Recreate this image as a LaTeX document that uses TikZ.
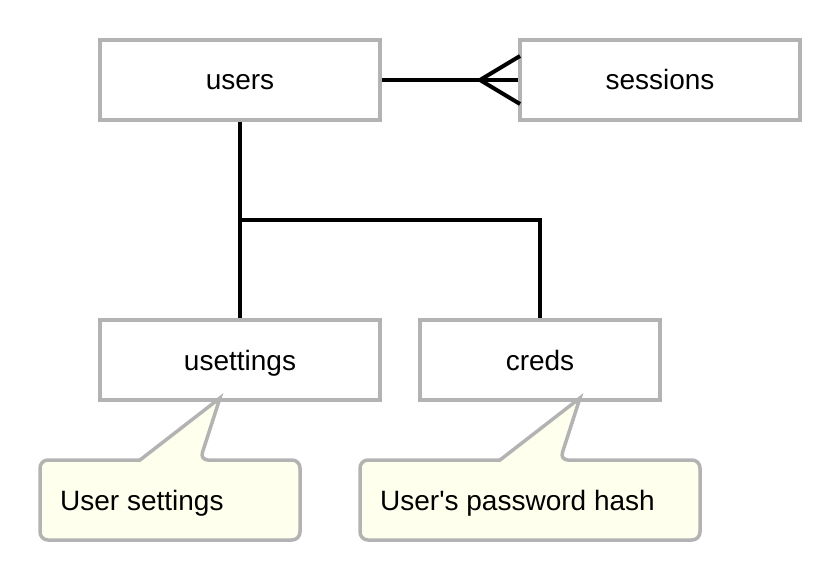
\documentclass[tikz,border=0pt]{standalone}
\usepackage{fontspec}
\setmainfont{Liberation Sans}
\begin{document}
\begin{tikzpicture}[x=1pt,y=-1pt,
  txt/.style={font=\fontsize{28}{30}\selectfont,text height=20pt,text depth=0pt},
  entity/.style={draw=boxgray,line width=3.5pt,minimum height=80pt,inner sep=0pt,txt},
  conn/.style={line width=4pt,black},
  note/.style={draw=boxgray,fill=notefill,line width=3.5pt,rounded corners=8pt,line join=miter}]
\definecolor{boxgray}{HTML}{B3B3B3}
\definecolor{notefill}{HTML}{FFFFEE}
\useasboundingbox (0,0) rectangle (840,580);
\node[entity,minimum width=280pt] (users) at (240,80) {users};
\node[entity,minimum width=280pt] (sessions) at (660,80) {sessions};
\node[entity,minimum width=280pt] (usettings) at (240,360) {usettings};
\node[entity,minimum width=240pt] (creds) at (540,360) {creds};
% callouts
\filldraw[note]
  (140,460) -- (40,460) -- (40,540) -- (300,540) -- (300,460) -- (200,460) [sharp corners]-- (220,398) -- cycle;
\node[anchor=west,txt,inner sep=0pt] (note1) at (60,500) {User settings};
\filldraw[note]
  (500,460) -- (360,460) -- (360,540) -- (700,540) -- (700,460) -- (560,460) [sharp corners]-- (580,398) -- cycle;
\node[anchor=west,txt,inner sep=0pt] (note2) at (380,500) {User\textquotesingle s password hash};
% connectors
\coordinate (j) at (240,220);
\coordinate (cf) at (480,80);
\coordinate (cfa) at (520,56);
\coordinate (cfb) at (520,104);
\draw[conn] (users.south) -- (usettings.north);
\draw[conn] (j) -| (creds.north);
\draw[conn] (users.east) -- (sessions.west);
\draw[conn] (cfa) -- (cf) -- (cfb);
\end{tikzpicture}
\end{document}
